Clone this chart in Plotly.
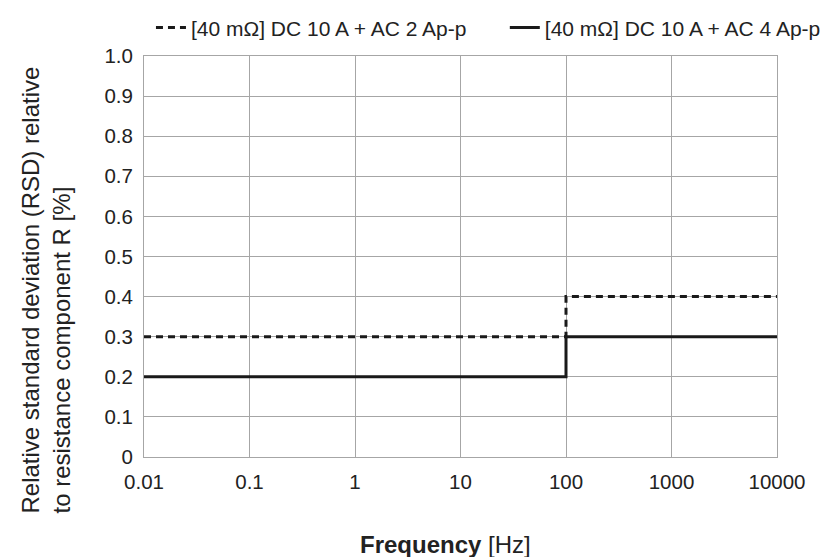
import plotly.graph_objects as go

# data
freq = [0.01, 100, 10000]
rsd_ac2 = [0.3, 0.4, 0.4]   # [40 mΩ] DC 10 A + AC 2 Ap-p
rsd_ac4 = [0.2, 0.3, 0.3]   # [40 mΩ] DC 10 A + AC 4 Ap-p

x_ticks = [0.01, 0.1, 1, 10, 100, 1000, 10000]
x_labels = ["0.01", "0.1", "1", "10", "100", "1000", "10000"]
y_ticks = [0, 0.1, 0.2, 0.3, 0.4, 0.5, 0.6, 0.7, 0.8, 0.9, 1.0]
y_labels = ["0", "0.1", "0.2", "0.3", "0.4", "0.5", "0.6", "0.7", "0.8", "0.9", "1.0"]

font = "Liberation Sans, Arial, sans-serif"
txt = "#222222"
grid = "#a6a6a6"

fig = go.Figure()
fig.add_trace(go.Scatter(x=freq, y=rsd_ac2, mode="lines", line_shape="hv",
                         name="[40 mΩ] DC 10 A + AC 2 Ap-p", legend="legend",
                         line=dict(color="#1a1a1a", width=3, dash="7px,5px")))
fig.add_trace(go.Scatter(x=freq, y=rsd_ac4, mode="lines", line_shape="hv",
                         name="[40 mΩ] DC 10 A + AC 4 Ap-p", legend="legend2",
                         line=dict(color="#1a1a1a", width=3)))

leg = dict(orientation="h", xanchor="left", y=1.07, yanchor="middle",
           font=dict(size=21), bgcolor="rgba(0,0,0,0)")

fig.update_layout(
    width=834, height=557,
    margin=dict(l=136, r=65, t=48, b=108, autoexpand=False),
    paper_bgcolor="white", plot_bgcolor="white",
    font=dict(family=font, size=20.5, color=txt),
    showlegend=True,
    legend=dict(leg, x=0.011),
    legend2=dict(leg, x=0.570),
)
fig.update_xaxes(type="log", range=[-2, 4], tickvals=x_ticks, ticktext=x_labels,
                 showgrid=True, gridcolor=grid, gridwidth=1,
                 showline=True, linecolor=grid, linewidth=1, mirror=True,
                 ticks="", ticklabelstandoff=6, zeroline=False)
fig.update_yaxes(range=[0, 1], tickvals=y_ticks, ticktext=y_labels,
                 showgrid=True, gridcolor=grid, gridwidth=1,
                 showline=True, linecolor=grid, linewidth=1, mirror=True,
                 ticks="", ticklabelstandoff=6, zeroline=False)

# axis titles
fig.add_annotation(text="<b>Frequency</b> [Hz]", xref="paper", yref="paper",
                   x=0.476, y=-0.18, xanchor="center", yanchor="top",
                   showarrow=False, font=dict(size=24, color=txt))
fig.add_annotation(text="Relative standard deviation (RSD) relative<br>to resistance component R [%]",
                   xref="paper", yref="paper", x=-0.155, y=-0.145, xanchor="center", yanchor="bottom",
                   textangle=-90, showarrow=False, align="left",
                   font=dict(size=24, color=txt))

fig.write_html("out.html")
